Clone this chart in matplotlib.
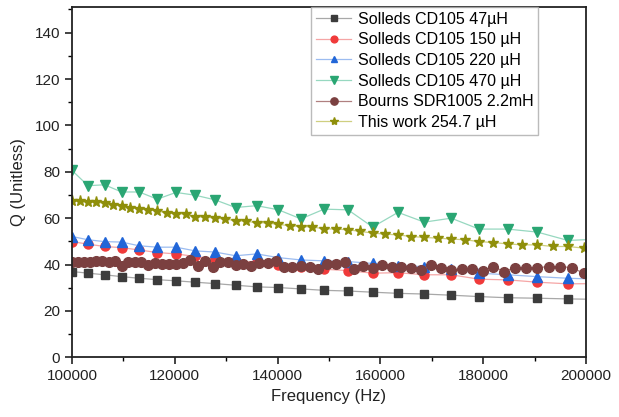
import matplotlib
matplotlib.use("Agg")
import matplotlib.pyplot as plt
from matplotlib.ticker import MultipleLocator

plt.rcParams['font.family'] = ['Liberation Sans', 'DejaVu Sans']

# Frequencies (Hz) of the four Solleds series (last point lies just beyond the axis)
freq_a = [100000, 103120, 106330, 109650, 113070, 116590, 120230, 123970, 127840, 131830,
          135940, 140170, 144540, 149050, 153700, 158490, 163430, 168530, 173780, 179200,
          184790, 190550, 196490, 202700]
q_47 = [37.0, 36.3, 35.6, 34.8, 34.1, 33.5, 33.0, 32.4, 31.8, 31.1, 30.4, 30.1, 29.5,
        28.9, 28.6, 28.1, 27.6, 27.3, 26.8, 26.2, 25.7, 25.5, 25.2, 25.0]
q_150 = [49.9, 48.8, 47.8, 47.3, 46.3, 45.2, 44.6, 43.5, 42.3, 41.7, 40.9, 39.9, 38.9,
         38.0, 37.4, 36.3, 36.5, 35.6, 35.6, 33.7, 33.4, 32.4, 31.7, 31.8]
q_220 = [52.1, 50.7, 49.9, 49.7, 48.1, 47.5, 47.5, 45.9, 45.4, 43.8, 44.6, 43.0, 42.0,
         41.6, 41.3, 40.5, 39.6, 39.1, 38.0, 36.3, 35.6, 34.8, 34.1, 33.7]
q_470 = [80.6, 74.0, 74.4, 71.3, 71.3, 68.2, 71.1, 69.9, 67.9, 64.6, 65.4, 63.6, 59.7,
         63.9, 63.6, 56.2, 62.5, 58.3, 60.0, 55.3, 55.3, 54.0, 50.4, 51.0]

# Bourns SDR1005 2.2 mH
freq_b = [100000, 101160, 102330, 103510, 104710, 105930, 107150, 108390, 109650, 110920,
          112200, 113500, 114820, 116140, 117490, 118850, 120230, 121620, 123030, 124450,
          125890, 127350, 128820, 130320, 131830, 133350, 134900, 136460, 138040, 139640,
          141250, 142890, 144540, 146220, 147910, 149620, 151360, 153110, 154880, 156680,
          158490, 160320, 162180, 164060, 165960, 167880, 169820, 171790, 173780, 175790,
          177830, 179890, 181970, 184080, 186210, 188370, 190550, 192750, 194980, 197240,
          199530]
q_bourns = [41.3, 41.0, 41.3, 41.3, 41.7, 41.6, 40.9, 41.7, 39.6, 40.9, 41.0, 40.9, 39.9,
            40.6, 40.2, 40.2, 40.2, 40.6, 42.0, 39.4, 41.6, 39.1, 40.9, 41.3, 39.9, 40.2,
            39.4, 40.6, 40.6, 41.7, 39.1, 39.1, 39.6, 38.9, 38.1, 40.3, 40.2, 41.3, 38.0,
            39.4, 38.4, 39.9, 39.1, 39.1, 38.7, 37.7, 39.9, 38.4, 37.7, 38.0, 38.0, 37.3,
            39.1, 37.0, 38.7, 38.4, 38.7, 39.1, 39.1, 38.7, 36.3]

# This work 254.7 uH
freq_c = [100000, 101550, 103120, 104710, 106330, 107980, 109650, 111340, 113070, 114820,
          116590, 118400, 120230, 122090, 123970, 125890, 127840, 129820, 131830, 133870,
          135940, 138040, 140170, 142340, 144540, 146780, 149050, 151360, 153700, 156080,
          158490, 160940, 163430, 165960, 168530, 171130, 173780, 176470, 179200, 181970,
          184790, 187640, 190550, 193490, 196490, 199530]
q_this = [67.5, 67.2, 67.0, 66.8, 66.5, 65.8, 65.2, 64.6, 64.1, 63.6, 63.2, 62.2, 61.9,
          61.8, 60.5, 60.5, 60.0, 59.6, 59.0, 58.6, 58.1, 57.9, 57.3, 56.8, 56.4, 56.2,
          55.4, 55.3, 55.0, 54.3, 53.6, 53.1, 52.8, 52.1, 51.7, 51.4, 51.0, 50.7, 49.9,
          49.5, 48.9, 48.5, 48.5, 47.8, 47.8, 47.1]

labels = ["Solleds CD105 47\u00b5H", "Solleds CD105 150 \u00b5H", "Solleds CD105 220 \u00b5H",
          "Solleds CD105 470 \u00b5H", "Bourns SDR1005 2.2mH", "This work 254.7 \u00b5H"]

fig = plt.figure(figsize=(6.19, 4.17), dpi=100)
ax = fig.add_axes([0.1163, 0.143, 0.8304, 0.840])

series = [
    (freq_a, q_47, 's', '#3c3c3c', '#a8a8a8', 5.5),
    (freq_a, q_150, 'o', '#f03a3a', '#f5a5a5', 6.5),
    (freq_a, q_220, '^', '#2166d8', '#9cbcf0', 6.5),
    (freq_a, q_470, 'v', '#2aa673', '#97d8c0', 7.5),
    (freq_b, q_bourns, 'o', '#7b4040', '#b08080', 7),
    (freq_c, q_this, '*', '#8f8f0a', '#cfcf80', 8),
]
for (x, y, m, mc, lc, ms), lab in zip(series, labels):
    ax.plot(x, y, color=lc, lw=0.9, marker=m, markersize=ms,
            markerfacecolor=mc, markeredgecolor=mc, label=lab, clip_on=True)

ax.set_xlim(100000, 200000)
ax.set_ylim(0, 151)
ax.xaxis.set_major_locator(MultipleLocator(20000))
ax.xaxis.set_minor_locator(MultipleLocator(10000))
ax.yaxis.set_major_locator(MultipleLocator(20))
ax.yaxis.set_minor_locator(MultipleLocator(10))
ax.tick_params(which='major', direction='out', length=5, width=1.2, labelsize=11, colors='#222222')
ax.tick_params(which='minor', direction='out', length=3, width=1.0)
for s in ax.spines.values():
    s.set_linewidth(1.3)
    s.set_color('#222222')

ax.set_xlabel("Frequency (Hz)", fontsize=12, color='#222222', labelpad=4)
ax.set_ylabel("Q (Unitless)", fontsize=12, color='#222222', labelpad=6)

leg = ax.legend(loc='upper right', bbox_to_anchor=(0.907, 1.0), borderaxespad=0,
                fontsize=11.5, frameon=True, fancybox=False, edgecolor='#aaaaaa',
                handlelength=2.2, handletextpad=0.4, labelspacing=0.35, borderpad=0.3,
                markerscale=0.75)
leg.get_frame().set_linewidth(1.0)

fig.savefig("out.png", dpi=100)
